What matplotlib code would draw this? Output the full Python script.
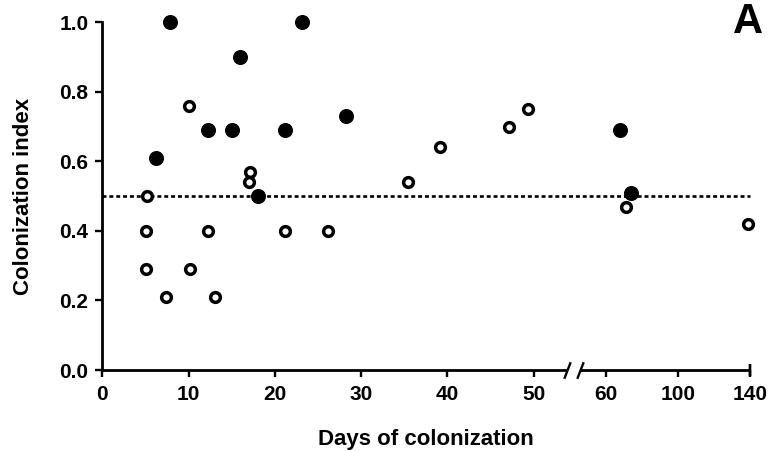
import matplotlib.pyplot as plt
import numpy as np

plt.rcParams['font.family'] = ['Liberation Sans', 'DejaVu Sans']

# Colonization index vs. days, filled and open groups
filled_days = [7.8, 23.1, 16.0, 6.2, 12.2, 15.0, 21.2, 28.3, 18.1, 68.0, 73.9]
filled_index = [1.0, 1.0, 0.9, 0.61, 0.69, 0.69, 0.69, 0.73, 0.5, 0.69, 0.51]
open_days = [5.2, 5.1, 5.1, 7.4, 10.0, 10.2, 12.2, 13.1, 17.1, 17.0, 21.2, 26.2,
             35.4, 39.2, 47.2, 49.3, 71.1, 139.0]
open_index = [0.5, 0.4, 0.29, 0.21, 0.76, 0.29, 0.4, 0.21, 0.57, 0.54, 0.4, 0.4,
              0.54, 0.64, 0.7, 0.75, 0.47, 0.42]
ref_level = 0.5
xticks = [0, 10, 20, 30, 40, 50, 60, 100, 140]

# piecewise x scale: linear to the knee, compressed afterwards
KNEE = 57.9
SLOPE = 0.2093


def fwd(x):
    x = np.asarray(x, dtype=float)
    return np.where(x <= KNEE, x, KNEE + (x - KNEE) * SLOPE)


def inv(u):
    u = np.asarray(u, dtype=float)
    return np.where(u <= KNEE, u, KNEE + (u - KNEE) / SLOPE)


fig = plt.figure(figsize=(7.69, 4.51), dpi=100)
ax = fig.add_axes([0.1330, 0.1796, 0.8423, 0.7710])
ax.set_xscale('function', functions=(fwd, inv))
ax.set_xlim(0, 140)
ax.set_ylim(0, 1.0)

# reference line
ax.plot([0, 140], [ref_level, ref_level], color='black', lw=1.9,
        linestyle=(0, (1.5, 1.1)), clip_on=False, zorder=2)

ax.plot(open_days, open_index, 'o', ms=7.0, mfc='white', mec='black', mew=2.5,
        clip_on=False, zorder=3)
ax.plot(filled_days, filled_index, 'o', ms=9.8, mfc='black', mec='black',
        clip_on=False, zorder=4)

# axes: left spine only, bottom drawn broken
for s in ['top', 'right', 'bottom']:
    ax.spines[s].set_visible(False)
ax.spines['left'].set_linewidth(2)
ax.plot([0, 53.9], [0, 0], color='black', lw=2, clip_on=False, solid_capstyle='butt')
ax.plot([55.4, 140], [0, 0], color='black', lw=2, clip_on=False, solid_capstyle='butt')
slash = [(-1, -2.6), (1, 2.6)]
ax.plot([53.9, 55.4], [0, 0], linestyle='none', marker=slash, ms=12, mew=1.7,
        color='black', clip_on=False)
ax.plot([140, 140], [0, 0], linestyle='none', marker='|', ms=9, mew=1.7,
        color='black', clip_on=False)

ax.set_xticks(xticks)
ax.set_xticklabels([str(t) for t in xticks])
ax.set_yticks([0, 0.2, 0.4, 0.6, 0.8, 1.0])
ax.set_yticklabels(['0.0', '0.2', '0.4', '0.6', '0.8', '1.0'])
ax.tick_params(axis='x', length=5, width=1.7, direction='out', pad=6,
               labelsize=15)
ax.tick_params(axis='y', length=5, width=1.7, direction='out', pad=5,
               labelsize=15)
for lab in ax.get_xticklabels() + ax.get_yticklabels():
    lab.set_fontweight('bold')

ax.set_xlabel('Days of colonization', fontsize=16, fontweight='bold', labelpad=18)
ax.set_ylabel('Colonization index', fontsize=16, fontweight='bold', labelpad=18)

fig.text(0.9727, 0.951, 'A', fontsize=30, fontweight='bold', ha='center', va='center')

plt.savefig('out.png')
